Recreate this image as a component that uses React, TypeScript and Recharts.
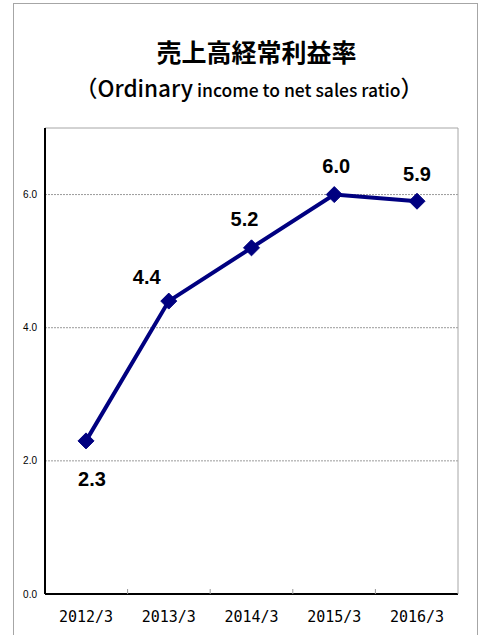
import { CartesianGrid, LabelList, Line, LineChart, XAxis, YAxis } from 'recharts';

const years = ['2012/3', '2013/3', '2014/3', '2015/3', '2016/3'];
const ratio = [2.3, 4.4, 5.2, 6.0, 5.9];
const yTicks = [0, 2, 4, 6];
const edgeTicks = [1, 2, 3, 4];

// label nudges relative to each point (dx, dy of the text centre)
const LABEL_NUDGE: [number, number][] = [
  [6, 38],
  [-22, -24],
  [-7, -29],
  [2, -29],
  [0, -27],
];

const NAVY = '#000080';
const GRAY = '#a6a6a6';

const data = years.map((year, i) => ({ year, ratio: ratio[i], pos: i + 0.5 }));

function Diamond(props: any) {
  const { cx, cy } = props;
  if (cx == null || cy == null) return null;
  const r = 8;
  return (
    <polygon
      points={`${cx},${cy - r} ${cx + r},${cy} ${cx},${cy + r} ${cx - r},${cy}`}
      fill={NAVY}
      stroke={NAVY}
    />
  );
}

function ValueLabel(props: any) {
  const { x, y, value, index } = props;
  const [dx, dy] = LABEL_NUDGE[index] ?? [0, -25];
  return (
    <text
      x={x + dx}
      y={y + dy}
      textAnchor="middle"
      dominantBaseline="central"
      fontSize={20}
      fontWeight="bold"
      fontFamily="'Liberation Sans', Arial, sans-serif"
      fill="#000"
    >
      {Number(value).toFixed(1)}
    </text>
  );
}

const emptyTick = () => <g />;

export default function App() {
  return (
    <div
      style={{
        position: 'absolute',
        left: 0,
        top: 0,
        width: 486,
        height: 635,
        overflow: 'hidden',
        background: '#fff',
      }}
    >
      <div
        style={{
          position: 'absolute',
          left: 13,
          top: 3,
          width: 463,
          height: 640,
          border: `1px solid ${GRAY}`,
        }}
      />
      <div
        style={{
          position: 'absolute',
          left: 0,
          width: 486,
          top: 33,
          textAlign: 'center',
          paddingLeft: 27,
          boxSizing: 'border-box',
          fontFamily: "'Noto Sans CJK JP', sans-serif",
          fontWeight: 'bold',
          fontSize: 25,
          lineHeight: '36px',
          color: '#000',
        }}
      >
        売上高経常利益率
      </div>
      <div
        style={{
          position: 'absolute',
          left: 0,
          width: 486,
          top: 72,
          textAlign: 'center',
          paddingLeft: 12,
          boxSizing: 'border-box',
          fontFamily: "'Noto Sans CJK JP', sans-serif",
          fontWeight: 500,
          fontSize: 17.5,
          lineHeight: '30px',
          color: '#000',
          whiteSpace: 'nowrap',
        }}
      >
        <span style={{ fontSize: 22.5 }}>（Ordinary</span> income to net sales ratio
        <span style={{ fontSize: 22.5 }}>）</span>
      </div>
      <div style={{ position: 'absolute', left: 0, top: 0 }}>
        <LineChart
          width={486}
          height={635}
          data={data}
          margin={{ top: 127, right: 27, bottom: 0, left: 0 }}
        >
          <CartesianGrid vertical={false} horizontalValues={[2, 4, 6]} stroke="#9a9a9a" strokeDasharray="2 1" />
          <XAxis
            xAxisId="top"
            orientation="top"
            dataKey="year"
            height={1}
            tick={emptyTick}
            tickLine={false}
            axisLine={{ stroke: GRAY }}
          />
          {/* draws the black base line and the small inward ticks between categories */}
          <XAxis
            xAxisId="edges"
            type="number"
            dataKey="pos"
            domain={[0, 5]}
            ticks={edgeTicks}
            allowDataOverflow
            height={1}
            mirror
            tick={emptyTick}
            tickSize={5}
            tickLine={{ stroke: '#999' }}
            axisLine={{ stroke: '#000', strokeWidth: 2 }}
          />
          <XAxis
            dataKey="year"
            height={41}
            padding={{ left: 41, right: 41 }}
            tickLine={false}
            tickMargin={11}
            axisLine={false}
            tick={{
              fill: '#000',
              fontSize: 15,
              fontFamily: "'DejaVu Sans Mono', monospace",
            }}
          />
          <YAxis
            domain={[0, 7]}
            ticks={yTicks}
            width={45}
            tickLine={false}
            axisLine={{ stroke: '#000', strokeWidth: 2 }}
            tickFormatter={(v) => Number(v).toFixed(1)}
            tick={{ fill: '#000', fontSize: 10, fontFamily: "'Liberation Sans', Arial, sans-serif" }}
          />
          <YAxis
            yAxisId="right"
            orientation="right"
            domain={[0, 7]}
            width={1}
            tick={emptyTick}
            tickLine={false}
            axisLine={{ stroke: GRAY }}
          />
          <Line
            dataKey="ratio"
            stroke={NAVY}
            strokeWidth={4}
            dot={<Diamond />}
            activeDot={false}
            isAnimationActive={false}
          >
            <LabelList dataKey="ratio" content={<ValueLabel />} />
          </Line>
        </LineChart>
      </div>
    </div>
  );
}
